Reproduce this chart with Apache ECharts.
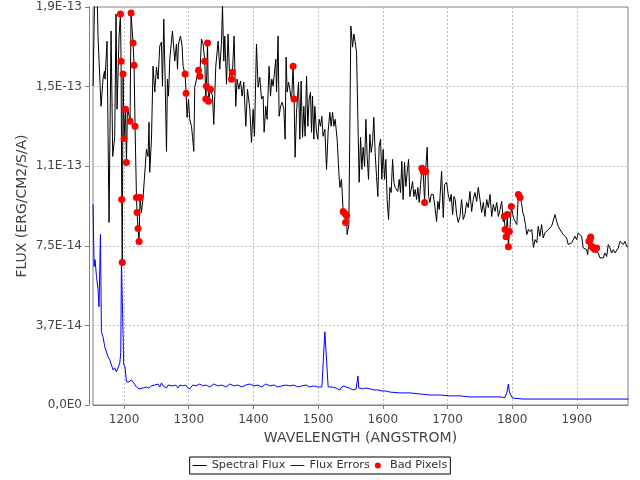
<!DOCTYPE html>
<html><head><meta charset="utf-8">
<script src="https://cdn.jsdelivr.net/npm/echarts@6/dist/echarts.min.js"></script>
<style>html,body{margin:0;padding:0;background:#fff}#c{width:640px;height:480px}</style>
</head><body><div id="c"></div>
<script>
// Spectral flux (wavelength in Angstrom, flux in units of 1e-14 erg/cm2/s/A)
const wave = [1152.1,1154.7,1158.2,1159.8,1161.3,1164.4,1167.5,1169.7,1170.6,1173.7,1176.8,1179.9,1182.5,1185.6,1187.6,1189.2,1192.3,1194.4,1195.4,1196.4,1197.2,1198.5,1200.0,1202.2,1203.7,1205.3,1207.3,1209.3,1210.8,1213.9,1215.5,1217.0,1219.2,1220.1,1221.6,1223.2,1224.7,1226.9,1229.4,1234.6,1237.1,1238.6,1239.7,1242.4,1244.8,1247.5,1250.1,1252.6,1255.2,1257.8,1259.4,1261.4,1263.4,1265.6,1267.1,1268.7,1270.7,1274.8,1278.4,1281.0,1282.6,1284.1,1287.2,1289.7,1291.2,1294.3,1295.9,1297.4,1299.6,1301.6,1304.2,1305.8,1307.8,1309.3,1312.0,1315.1,1317.1,1319.7,1322.2,1324.8,1326.3,1327.4,1329.0,1330.5,1333.6,1336.7,1338.7,1341.8,1345.4,1348.0,1350.6,1352.2,1354.2,1355.7,1358.4,1360.8,1363.5,1366.1,1367.6,1370.1,1372.7,1374.7,1377.4,1380.0,1382.5,1385.1,1388.2,1390.8,1394.4,1397.0,1399.5,1401.6,1404.7,1407.2,1409.8,1412.5,1415.0,1416.5,1419.1,1421.1,1424.2,1426.4,1428.4,1430.4,1433.0,1434.6,1435.7,1438.1,1439.7,1441.9,1444.3,1447.0,1449.0,1450.5,1452.1,1454.2,1456.2,1458.9,1461.3,1462.9,1464.4,1466.6,1469.7,1471.7,1473.7,1475.9,1477.9,1479.9,1482.1,1484.1,1486.1,1488.2,1489.8,1491.3,1493.4,1494.9,1497.5,1499.5,1501.5,1503.7,1505.7,1507.7,1510.4,1513.0,1515.5,1518.1,1520.1,1522.3,1524.3,1526.3,1529.4,1532.0,1533.6,1536.1,1538.7,1541.3,1542.4,1543.9,1544.8,1547.5,1550.6,1553.2,1555.2,1557.2,1559.4,1563.4,1565.6,1567.6,1569.6,1571.8,1573.8,1575.8,1577.9,1579.9,1582.0,1584.1,1586.1,1588.1,1590.3,1592.3,1594.3,1596.5,1598.5,1600.5,1602.7,1604.7,1606.7,1608.9,1610.9,1612.9,1615.1,1617.1,1619.1,1621.2,1623.2,1625.3,1627.4,1629.4,1631.4,1633.6,1635.6,1637.6,1639.8,1641.8,1643.8,1646.0,1648.0,1650.0,1652.2,1654.2,1656.2,1658.4,1660.4,1662.4,1664.6,1666.1,1668.6,1670.8,1672.8,1674.8,1677.9,1680.5,1683.1,1685.1,1687.2,1690.9,1693.4,1695.5,1698.6,1701.1,1703.7,1705.7,1707.9,1709.9,1711.9,1714.1,1716.6,1719.2,1721.8,1724.3,1726.9,1729.5,1732.0,1734.7,1737.3,1739.8,1742.4,1745.1,1747.5,1750.2,1752.8,1755.3,1757.9,1760.6,1763.1,1765.7,1768.3,1770.8,1773.5,1776.1,1778.6,1781.2,1783.8,1786.3,1787.8,1788.9,1790.5,1792.5,1794.1,1795.6,1796.7,1798.7,1800.9,1802.9,1804.9,1807.1,1809.6,1812.2,1814.2,1816.4,1818.4,1820.4,1822.6,1825.1,1827.7,1830.3,1832.8,1835.5,1838.1,1840.2,1842.8,1845.5,1847.9,1850.6,1853.2,1855.7,1858.3,1860.9,1863.4,1866.1,1868.7,1871.2,1873.8,1876.4,1878.9,1881.6,1884.1,1886.6,1889.2,1891.9,1894.3,1897.0,1899.6,1902.1,1904.7,1907.3,1909.8,1912.5,1915.1,1916.6,1918.6,1920.2,1921.2,1922.8,1925.3,1927.9,1930.5,1933.0,1935.6,1938.3,1940.7,1943.4,1946.0,1948.5,1951.1,1953.7,1956.2,1958.8,1961.5,1964.0,1966.6,1969.2,1971.7,1974.3,1976.9,1978.9];
const flux = [15.02,19.6,19.6,17.33,17.29,14.07,15.35,15.73,15.35,17.14,8.60,17.62,11.71,12.66,18.42,13.93,17.38,18.42,16.20,9.68,6.71,15.59,12.56,13.93,11.43,14.03,14.03,13.37,18.47,17.05,16.01,13.13,9.78,9.07,8.31,7.70,9.78,9.07,9.78,12.04,11.71,13.32,10.96,12.52,15.96,14.74,15.92,15.35,16.91,17.10,15.02,18.18,15.49,11.95,15.35,14.55,16.29,17.62,16.20,17.00,15.82,17.00,17.38,16.91,15.96,15.59,14.69,13.55,14.41,13.46,13.13,12.66,11.95,14.97,15.02,15.77,15.49,17.24,17.00,16.20,14.41,15.02,17.05,14.31,14.88,14.55,13.22,15.96,17.14,15.82,17.10,18.80,16.20,17.38,15.11,17.47,15.21,15.35,15.68,17.38,14.07,15.35,14.88,15.26,14.55,15.21,13.13,14.88,13.93,12.37,13.93,12.66,17.00,14.97,15.44,14.41,14.55,12.85,14.07,13.46,15.96,14.55,15.35,15.02,15.82,16.29,14.74,17.38,13.60,14.07,14.26,13.93,12.52,16.39,14.74,15.21,14.88,14.31,15.96,14.41,11.67,13.79,15.21,12.52,15.26,12.61,14.07,12.66,15.49,13.13,14.41,14.74,12.85,14.55,12.52,14.07,12.85,12.52,13.46,13.13,13.60,12.66,12.99,11.10,12.89,13.79,13.13,13.79,13.13,13.46,12.52,10.96,10.25,10.63,9.12,9.02,8.60,8.93,8.03,8.50,17.85,16.86,17.48,17.10,16.62,10.49,12.61,11.10,12.14,11.24,13.46,11.71,10.63,12.75,11.90,12.37,13.55,11.90,10.77,9.82,12.19,12.52,10.63,12.04,10.63,11.57,9.68,8.74,10.25,10.01,11.57,10.49,10.25,10.30,10.06,10.63,10.01,11.48,9.68,11.43,10.30,10.96,11.57,9.82,10.15,10.53,9.82,10.15,9.68,10.25,9.54,10.39,11.15,11.00,9.54,11.00,12.14,9.82,9.54,9.92,9.92,9.35,8.64,9.59,9.21,11.00,8.83,10.39,10.49,9.92,9.59,9.92,8.97,9.82,9.68,8.97,8.60,8.88,9.68,8.74,8.97,9.54,9.30,10.06,9.12,9.68,10.01,9.59,10.25,9.68,9.07,9.54,8.88,9.68,9.30,9.92,8.88,9.45,9.12,9.54,8.88,9.21,9.59,8.64,8.88,8.27,7.93,8.97,7.46,8.17,8.41,9.35,8.97,8.74,8.83,8.50,9.92,9.78,9.54,9.07,8.88,8.50,8.03,8.27,8.17,8.27,7.42,7.79,7.65,8.42,7.95,8.50,7.87,8.11,8.03,8.27,8.19,8.42,8.35,8.97,8.66,8.42,8.27,8.27,8.03,8.03,7.87,7.56,7.48,7.64,7.56,7.95,7.79,8.11,8.19,7.95,7.40,7.48,7.32,7.08,7.71,7.79,7.92,7.48,7.40,7.32,7.40,7.16,6.93,7.00,6.93,7.16,7.00,7.56,7.40,7.16,7.32,7.16,7.24,7.40,7.71,7.79,7.56,7.71,7.48,7.45];

// Flux errors (same units)
const errWave = [1152.1,1153.7,1155.2,1157.4,1159.8,1161.3,1163.5,1165.0,1167.5,1170.2,1172.8,1175.3,1177.9,1180.5,1183.0,1185.6,1188.2,1190.7,1193.4,1194.9,1196.0,1196.9,1199.5,1201.5,1203.7,1207.7,1211.4,1215.0,1219.2,1223.2,1229.4,1234.6,1238.2,1242.4,1244.8,1247.5,1250.1,1252.6,1255.2,1257.8,1260.3,1263.2,1265.6,1268.1,1270.7,1275.3,1280.0,1283.5,1286.1,1290.7,1295.4,1298.5,1301.6,1306.2,1310.9,1317.1,1321.7,1326.3,1332.5,1338.7,1344.9,1351.1,1357.3,1363.5,1369.6,1375.8,1382.0,1388.2,1394.4,1400.6,1406.8,1413.0,1419.1,1425.3,1431.5,1437.7,1443.9,1450.1,1456.3,1462.4,1468.6,1474.8,1481.0,1487.2,1493.4,1499.6,1505.8,1508.8,1510.4,1513.0,1515.5,1521.2,1527.4,1533.6,1536.7,1539.8,1542.9,1548.0,1554.0,1558.8,1561.5,1562.9,1569.1,1573.7,1580.0,1586.1,1592.3,1598.5,1604.7,1610.9,1626.4,1641.8,1657.3,1672.7,1688.2,1703.7,1719.2,1734.6,1750.1,1765.6,1781.0,1788.8,1791.9,1794.1,1795.6,1798.3,1800.3,1816.8,1979.9];
const errFlux = [9.45,6.52,6.85,6.05,5.43,4.63,8.03,3.45,3.21,2.74,2.69,2.27,2.13,1.89,1.65,1.75,1.56,1.51,1.98,2.46,6.85,6.85,1.89,1.79,1.09,1.09,1.18,1.04,0.85,0.76,0.80,0.85,0.80,0.90,0.85,0.94,0.90,0.99,0.85,1.04,0.90,0.99,0.80,0.94,0.94,0.90,0.94,0.80,0.94,0.90,0.94,0.80,0.76,0.94,0.90,0.99,0.90,0.94,0.85,0.99,0.90,0.94,0.85,0.99,0.90,0.94,0.85,0.94,0.99,0.90,0.94,0.85,0.99,0.90,0.94,0.85,0.90,0.94,0.90,0.94,0.85,0.90,0.94,0.85,0.90,0.85,0.85,0.90,3.45,3.40,0.85,0.85,0.80,0.71,0.85,0.90,0.85,0.80,0.71,0.76,1.37,0.80,0.76,0.80,0.76,0.71,0.71,0.66,0.66,0.61,0.57,0.57,0.52,0.47,0.47,0.43,0.43,0.38,0.38,0.38,0.38,0.35,0.61,0.99,0.61,0.61,0.33,0.28,0.28];

// Bad pixels
const badWave = [1194.4,1195.4,1196.4,1197.2,1198.5,1200.0,1202.2,1203.7,1209.3,1210.8,1213.9,1215.5,1217.0,1219.2,1220.1,1221.6,1223.2,1224.7,1294.3,1295.9,1315.1,1317.1,1324.8,1326.3,1327.4,1329.0,1330.5,1333.6,1366.1,1367.6,1461.3,1462.9,1538.7,1541.3,1542.4,1543.9,1660.4,1662.4,1664.6,1666.1,1787.8,1788.9,1790.5,1792.5,1794.1,1795.6,1798.7,1809.6,1812.2,1918.6,1920.2,1921.2,1922.8,1925.3,1927.9,1930.5];
const badFlux = [18.42,16.20,9.68,6.71,15.59,12.56,13.93,11.43,13.37,18.47,17.05,16.01,13.13,9.78,9.07,8.31,7.70,9.78,15.59,14.69,15.77,15.49,16.20,14.41,15.02,17.05,14.31,14.88,15.35,15.68,15.96,14.41,9.12,9.02,8.60,8.93,11.15,11.00,9.54,11.00,8.88,8.27,7.93,8.97,7.46,8.17,9.35,9.92,9.78,7.71,7.79,7.92,7.48,7.40,7.32,7.40];

const xTicks = [1200,1300,1400,1500,1600,1700,1800,1900];
const yTickLabels = ['0,0E0','3,7E-14','7,5E-14','1,1E-13','1,5E-13','1,9E-13'];

const font = 'DejaVu Sans';
const lineIcon = 'path://M0,0M14,6M0,2.5L14,2.5L14,3.5L0,3.5Z';
const chart = echarts.init(document.getElementById('c'), null, {renderer: 'canvas'});
chart.setOption({
  animation: false,
  backgroundColor: '#ffffff',
  grid: {left: 93, right: 12, top: 7, bottom: 75, show: true, borderColor: '#808080', borderWidth: 1, backgroundColor: '#ffffff'},
  xAxis: {
    type: 'value', min: 1152, max: 1979, offset: 4,
    name: 'WAVELENGTH (ANGSTROM)', nameLocation: 'middle', nameGap: 22,
    nameTextStyle: {fontFamily: font, fontSize: 14, color: '#444444'},
    axisLine: {show: true, lineStyle: {color: '#808080', width: 1}},
    axisTick: {show: true, length: 4, customValues: xTicks, lineStyle: {color: '#808080'}},
    axisLabel: {customValues: xTicks, margin: 5, fontFamily: font, fontSize: 12, color: '#444444',
      formatter: v => String(Math.round(v))},
    splitLine: {show: true, lineStyle: {color: '#c0c0c0', width: 1, type: [2, 2]}}
  },
  yAxis: {
    type: 'value', min: 0, max: 18.75, interval: 3.75, offset: 4,
    name: 'FLUX (ERG/CM2/S/A)', nameLocation: 'middle', nameGap: 60, nameMoveOverlap: false,
    nameTextStyle: {fontFamily: font, fontSize: 14, color: '#444444'},
    axisLine: {show: true, lineStyle: {color: '#808080', width: 1}},
    axisTick: {show: true, length: 4, lineStyle: {color: '#808080'}},
    axisLabel: {margin: 7, fontFamily: font, fontSize: 12, color: '#444444',
      formatter: v => yTickLabels[Math.round(v / 3.75)]},
    splitLine: {show: true, lineStyle: {color: '#c0c0c0', width: 1, type: [2, 2]}}
  },
  legend: {
    top: 457, left: 'center', orient: 'horizontal',
    borderColor: '#000000', borderWidth: 1, borderRadius: 0,
    padding: [3, 3, 3, 3], itemGap: 5, itemWidth: 14, itemHeight: 6,
    textStyle: {fontFamily: font, fontSize: 11.3, color: '#333333'},
    data: [
      {name: 'Spectral Flux', icon: lineIcon, itemStyle: {color: '#000000'}},
      {name: 'Flux Errors', icon: lineIcon, itemStyle: {color: '#0000ff'}},
      {name: 'Bad Pixels', icon: 'circle', itemStyle: {color: '#ff0000'}}
    ]
  },
  series: [
    {name: 'Spectral Flux', type: 'line', data: wave.map((w, i) => [w, flux[i]]), symbol: 'none',
      lineStyle: {color: '#000000', width: 1}, itemStyle: {color: '#000000'}, z: 2},
    {name: 'Flux Errors', type: 'line', data: errWave.map((w, i) => [w, errFlux[i]]), symbol: 'none',
      lineStyle: {color: '#0000ff', width: 1}, itemStyle: {color: '#0000ff'}, z: 3},
    {name: 'Bad Pixels', type: 'scatter', data: badWave.map((w, i) => [w, badFlux[i]]), symbol: 'circle', symbolSize: 7,
      itemStyle: {color: '#ff0000', opacity: 1}, z: 4}
  ]
});
</script>
</body></html>
